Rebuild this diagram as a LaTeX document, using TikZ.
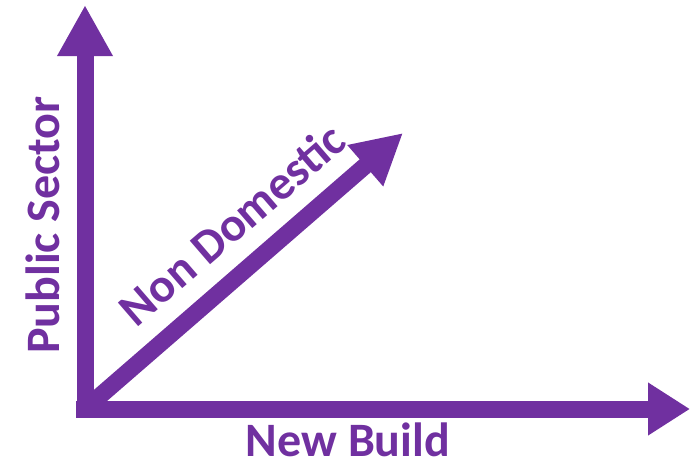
\documentclass[tikz,border=0pt]{standalone}
\usepackage{fontspec}
\setmainfont{Carlito}
\usetikzlibrary{arrows.meta}
\definecolor{axispurple}{HTML}{7030A0}
\tikzset{
  axisline/.style={draw=axispurple, line width=17pt},
  lbl/.style={text=axispurple, font=\fontsize{48}{52}\selectfont\bfseries, inner sep=0pt}
}
\begin{document}
\begin{tikzpicture}[x=1pt,y=-1pt]
\useasboundingbox (0,0) rectangle (690,463);
\coordinate (vbase) at (85,417);
\coordinate (vtip) at (85,5);
\coordinate (hbase) at (76,409);
\coordinate (htip) at (690,409);
\coordinate (dbase) at (86,408);
\coordinate (dtip) at (403,133);
\draw[axisline, -{Triangle[length=51pt,width=52pt]}] (vbase) -- (vtip);
\draw[axisline, -{Triangle[length=42pt,width=50pt]}] (hbase) -- (htip);
\draw[axisline, -{Triangle[length=50pt,width=51pt]}] (dbase) -- (dtip);
\node[lbl] (ps) at (43,225) [rotate=90] {Public Sector};
\node[lbl] (nb) at (348,440) {New Build};
\node[lbl] (nd) at (232,224) [rotate=40.8] {Non Domestic};
\end{tikzpicture}
\end{document}
